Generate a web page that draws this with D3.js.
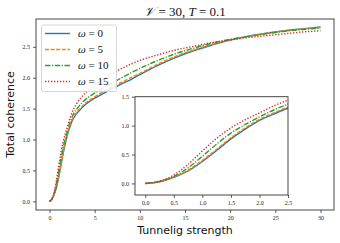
<!DOCTYPE html>
<html>
<head>
<meta charset="utf-8">
<script src="https://cdn.jsdelivr.net/npm/d3@7"></script>
<style>
  body { margin: 0; background: #fff; }
  .tick text { font-family: "Liberation Serif", "DejaVu Serif", serif; font-size: 6px; fill: #222; }
  .lbl { font-family: "DejaVu Sans", sans-serif; font-size: 11px; fill: #111; }
  .math { font-family: "Liberation Serif", "DejaVu Serif", serif; fill: #111; }
  .it { font-style: italic; }
</style>
</head>
<body>
<svg id="chart" width="340" height="243"></svg>
<script>
// tunnelling strength grid
const xs = [0, 0.25, 0.5, 0.75, 1, 1.25, 1.5, 1.75, 2, 2.25, 2.5, 3, 3.5, 4, 5, 6, 7, 8, 9, 10, 12, 14, 16, 18, 20, 22, 24, 26, 28, 30];

// total coherence per omega
const w0  = [0, 0.03, 0.105, 0.215, 0.38, 0.57, 0.77, 0.94, 1.09, 1.20, 1.30, 1.42, 1.50, 1.57, 1.67, 1.75, 1.83, 1.90, 1.97, 2.05, 2.20, 2.33, 2.44, 2.53, 2.61, 2.67, 2.72, 2.76, 2.79, 2.82];
const w5  = [0, 0.03, 0.11, 0.23, 0.40, 0.59, 0.79, 0.96, 1.11, 1.22, 1.32, 1.44, 1.52, 1.59, 1.69, 1.78, 1.86, 1.93, 2.00, 2.07, 2.22, 2.35, 2.45, 2.54, 2.61, 2.67, 2.72, 2.76, 2.79, 2.81];
const w10 = [0, 0.035, 0.12, 0.27, 0.47, 0.68, 0.87, 1.02, 1.15, 1.27, 1.37, 1.49, 1.58, 1.65, 1.75, 1.84, 1.92, 2.00, 2.08, 2.15, 2.28, 2.39, 2.48, 2.56, 2.62, 2.67, 2.71, 2.75, 2.78, 2.80];
const w15 = [0, 0.04, 0.145, 0.33, 0.56, 0.78, 0.96, 1.10, 1.22, 1.34, 1.44, 1.58, 1.68, 1.76, 1.88, 1.98, 2.07, 2.15, 2.22, 2.28, 2.37, 2.45, 2.51, 2.57, 2.61, 2.65, 2.68, 2.71, 2.74, 2.76];

const labels = ["0", "5", "10", "15"];
const colors = ["#1f77b4", "#ff7f0e", "#2ca02c", "#d62728"];
const dashes = [null, "4,1.6", "5.5,1.5,1.2,1.5", "1.3,1.7"];

const mainXTicks = [0, 5, 10, 15, 20, 25, 30];
const mainYTicks = [0, 0.5, 1.0, 1.5, 2.0, 2.5];
const insetXTicks = [0, 0.5, 1.0, 1.5, 2.0, 2.5];
const insetYTicks = [0, 0.5, 1.0, 1.5];

const series = [w0, w5, w10, w15].map((ys, i) => ({
  name: labels[i],
  color: colors[i],
  dash: dashes[i],
  points: xs.map((x, j) => [x, ys[j]])
}));

const svg = d3.select("#chart");

function drawPanel(g, x, y, xTicks, yTicks, clip, fmt) {
  const [x0, x1] = x.range();
  const [y0, y1] = y.range();

  g.append("rect")
    .attr("x", x0).attr("y", y1)
    .attr("width", x1 - x0).attr("height", y0 - y1)
    .attr("fill", "#fff");

  g.append("clipPath").attr("id", clip)
    .append("rect")
    .attr("x", x0).attr("y", y1)
    .attr("width", x1 - x0).attr("height", y0 - y1);

  const line = d3.line()
    .x(d => x(d[0]))
    .y(d => y(d[1]))
    .curve(d3.curveMonotoneX);

  g.append("g")
    .attr("clip-path", `url(#${clip})`)
    .selectAll("path")
    .data(series)
    .join("path")
    .attr("fill", "none")
    .attr("stroke", d => d.color)
    .attr("stroke-width", 1.4)
    .attr("stroke-dasharray", d => d.dash)
    .attr("d", d => line(d.points));

  g.append("g")
    .attr("transform", `translate(0,${y0})`)
    .call(d3.axisBottom(x).tickValues(xTicks).tickSize(3).tickPadding(3).tickFormat(fmt))
    .call(a => a.select(".domain").remove());

  g.append("g")
    .attr("transform", `translate(${x0},0)`)
    .call(d3.axisLeft(y).tickValues(yTicks).tickSize(3).tickPadding(3).tickFormat(d3.format(".1f")))
    .call(a => a.select(".domain").remove());

  g.selectAll(".tick line").attr("stroke", "#333").attr("stroke-width", 0.8);

  g.append("rect")
    .attr("x", x0).attr("y", y1)
    .attr("width", x1 - x0).attr("height", y0 - y1)
    .attr("fill", "none")
    .attr("stroke", "#333")
    .attr("stroke-width", 0.9);
}

// main panel
const x = d3.scaleLinear().domain([-1.5, 31.5]).range([36, 334]);
const y = d3.scaleLinear().domain([-0.14, 2.95]).range([210, 19]);
drawPanel(svg.append("g"), x, y, mainXTicks, mainYTicks, "clipMain", d3.format("d"));

// legend
const legend = svg.append("g");
legend.append("rect")
  .attr("x", 41.5).attr("y", 25)
  .attr("width", 75).attr("height", 66.5)
  .attr("rx", 2)
  .attr("fill", "#fff").attr("fill-opacity", 0.85)
  .attr("stroke", "#ccc").attr("stroke-width", 0.8);

const row = legend.selectAll("g.row")
  .data(series)
  .join("g")
  .attr("class", "row")
  .attr("transform", (d, i) => `translate(0,${33.5 + i * 16})`);

row.append("line")
  .attr("x1", 45).attr("x2", 70)
  .attr("y1", 0).attr("y2", 0)
  .attr("stroke", d => d.color)
  .attr("stroke-width", 1.4)
  .attr("stroke-dasharray", d => d.dash);

const lt = row.append("text")
  .attr("class", "math")
  .attr("x", 78).attr("y", 3.5)
  .attr("font-size", 11);
lt.append("tspan").attr("class", "it").text("ω");
lt.append("tspan").text(d => " = " + d.name);

// inset panel
const xi = d3.scaleLinear().domain([-0.18, 2.5]).range([135, 288]);
const yi = d3.scaleLinear().domain([-0.2, 1.5]).range([195, 96.7]);
drawPanel(svg.append("g"), xi, yi, insetXTicks, insetYTicks, "clipInset", d3.format(".1f"));

// labels
svg.append("text")
  .attr("class", "lbl")
  .attr("x", 185).attr("y", 234)
  .attr("text-anchor", "middle")
  .text("Tunnelig strength");

svg.append("text")
  .attr("class", "lbl")
  .attr("transform", "translate(14,114.5) rotate(-90)")
  .attr("text-anchor", "middle")
  .text("Total coherence");

const title = svg.append("text")
  .attr("class", "math")
  .attr("x", 185).attr("y", 15.5)
  .attr("text-anchor", "middle")
  .attr("font-size", 13);
title.append("tspan").attr("class", "it").attr("font-family", "DejaVu Serif").text("𝒱");
title.append("tspan").text(" = 30, ");
title.append("tspan").attr("class", "it").text("T");
title.append("tspan").text(" = 0.1");
</script>
</body>
</html>
